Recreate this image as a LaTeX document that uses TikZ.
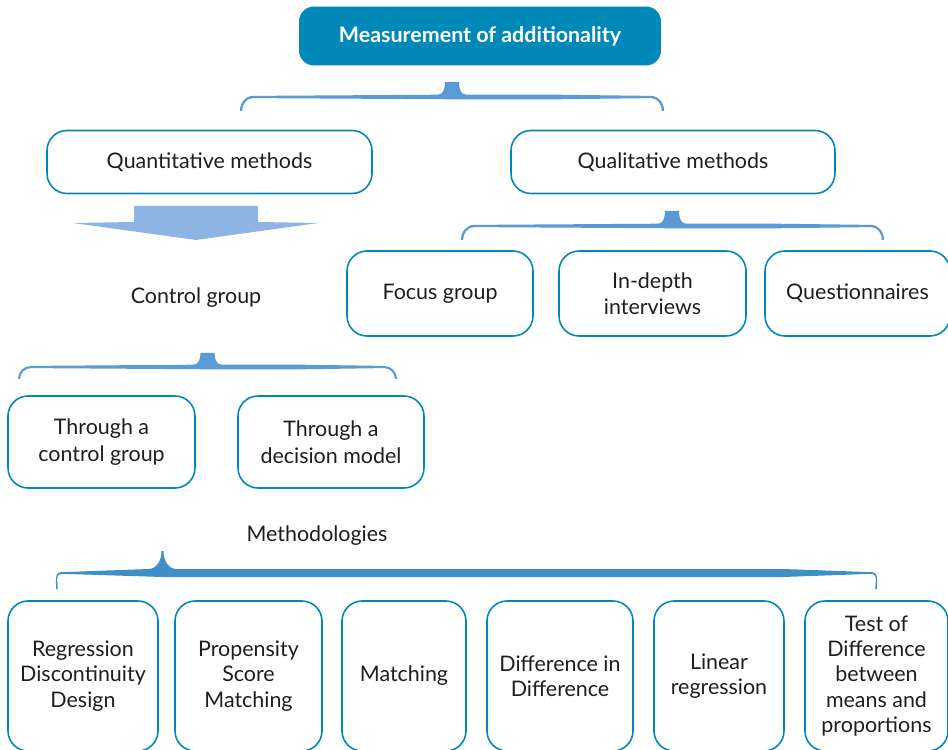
\documentclass[tikz,border=0pt]{standalone}
\usepackage{fontspec}
\setmainfont{Lato}
\usepackage{tikz}
\usetikzlibrary{positioning}

\definecolor{boxblue}{RGB}{0,136,185}
\definecolor{bracelight}{RGB}{91,155,213}
\definecolor{bracedark}{RGB}{62,143,198}
\definecolor{arrowfill}{RGB}{141,180,226}
\definecolor{txtgray}{RGB}{30,30,30}

\tikzset{
  method/.style={draw=boxblue, line width=0.9pt, rounded corners=0.4cm,
    align=center, text=txtgray, inner sep=0pt},
  plain/.style={text=txtgray, align=center},
}

\def\bendr{12}
\def\taper{0.5}
\def\endw{1.1}
% #1 colour, #2 left x, #3 right x, #4 tab x, #5 tab top y, #6 base y, #7 end y,
% #8 half thickness, #9 half width of tab top
\newcommand{\groupbrace}[9]{%
  \fill[#1] (#2-\endw,#7) to[out=90,in=180] (#2+\bendr,#6-\endw)
    -- (#4-14,#6-#8) to[out=0,in=-90] (#4-#9,#5) -- (#4+#9,#5) to[out=-90,in=180] (#4+14,#6-#8)
    -- ({#3-\taper*(#3-#4)},#6-#8) -- (#3-\bendr,#6-\endw) to[out=0,in=90] (#3+\endw,#7)
    -- (#3-\endw,#7) to[out=90,in=0] (#3-\bendr,#6+\endw) -- ({#3-\taper*(#3-#4)},#6+#8)
    -- (#4,#6+#8) -- (#2+\bendr,#6+\endw) to[out=180,in=90] (#2+\endw,#7) -- cycle;
}

\begin{document}
\begin{tikzpicture}[x=0.02cm, y=-0.02cm, font=\fontsize{12.2}{14.5}\selectfont]
  \useasboundingbox (0,0) rectangle (948,750);

  % top
  \node[fill=boxblue, rounded corners=0.3cm, text=white, font=\fontsize{12.2}{14.5}\selectfont\bfseries,
    minimum width=7.24cm, minimum height=1.18cm] (title) at (480,36) {Measurement of additionality};
  \groupbrace{bracelight}{241}{663}{452}{82}{97}{111}{2.3}{7}

  \node[method, minimum width=6.5cm, minimum height=1.26cm] (quant) at (209.5,162) {Quantitative methods};
  \node[method, minimum width=6.48cm, minimum height=1.26cm] (qual) at (673,162) {Qualitative methods};

  % quantitative side
  \fill[arrowfill] (134,206) -- (258,206) -- (258,222) -- (318,223)
    -- (196,240) -- (73,223) -- (134,222) -- cycle;
  \node[plain] (ctrl) at (196,298) {Control group};
  \groupbrace{bracelight}{19}{396}{207.5}{353}{367}{379}{2.3}{7}

  \node[method, minimum width=3.74cm, minimum height=1.84cm, font=\fontsize{12.2}{15.5}\selectfont] (thrctrl) at (101.5,442) {Through a\\control group};
  \node[method, minimum width=3.72cm, minimum height=1.84cm, font=\fontsize{12.2}{15.5}\selectfont] (thrdec) at (331,442) {Through a\\decision model};

  % qualitative side
  \groupbrace{bracelight}{462}{883}{672}{211}{226}{240}{2.3}{7}
  \node[method, minimum width=3.72cm, minimum height=1.7cm] (focus) at (440,293.5) {Focus group};
  \node[method, minimum width=3.74cm, minimum height=1.7cm] (indepth) at (652.5,293.5) {In-depth\\interviews};
  \node[method, minimum width=3.7cm, minimum height=1.7cm] (quest) at (857.5,293.5) {Questionnaires};

  % methodologies
  \node[plain] (meth) at (317,536) {Methodologies};
  \def\bendr{4}
  \def\taper{0.13}
  \def\endw{0.8}
  \groupbrace{bracedark}{57}{876}{162.5}{551}{573}{589}{4}{1}

  \node[method, minimum width=3.0cm, minimum height=3.0cm] (rdd) at (83,676) {Regression\\Discontinuity\\Design};
  \node[method, minimum width=2.94cm, minimum height=3.0cm] (psm) at (248.5,676) {Propensity\\Score\\Matching};
  \node[method, minimum width=2.48cm, minimum height=3.0cm] (match) at (404,676) {Matching};
  \node[method, minimum width=2.92cm, minimum height=3.0cm] (did) at (560,676) {Difference in\\Difference};
  \node[method, minimum width=2.6cm, minimum height=3.0cm] (linreg) at (719,676) {Linear\\regression};
  \node[method, minimum width=2.86cm, minimum height=3.0cm] (test) at (876.5,676) {Test of\\Difference\\between\\means and\\proportions};
\end{tikzpicture}
\end{document}
